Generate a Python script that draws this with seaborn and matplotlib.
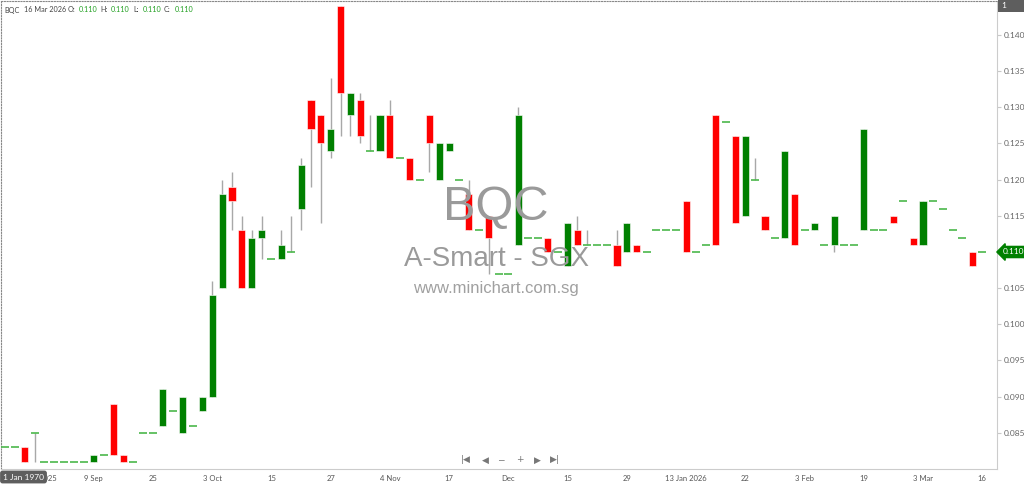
import pandas as pd
import seaborn as sns
import matplotlib
matplotlib.use('Agg')
import matplotlib.pyplot as plt
from matplotlib.transforms import blended_transform_factory

# OHLC de cada pregão (BQC - A-Smart, SGX)
opens = [0.083, 0.083, 0.083, 0.085, 0.081, 0.081, 0.081, 0.081, 0.081, 0.081,
         0.082, 0.089, 0.082, 0.081, 0.085, 0.085, 0.086, 0.088, 0.085, 0.086,
         0.088, 0.090, 0.105, 0.119, 0.113, 0.105, 0.112, 0.109, 0.109, 0.110,
         0.116, 0.131, 0.129, 0.124, 0.144, 0.129, 0.131, 0.124, 0.124, 0.129,
         0.123, 0.123, 0.120, 0.129, 0.120, 0.124, 0.120, 0.118, 0.113, 0.115,
         0.107, 0.107, 0.111, 0.112, 0.112, 0.112, 0.110, 0.108, 0.113, 0.111,
         0.111, 0.111, 0.111, 0.110, 0.111, 0.110, 0.113, 0.113, 0.113, 0.117,
         0.110, 0.111, 0.129, 0.128, 0.126, 0.115, 0.120, 0.115, 0.112, 0.112,
         0.118, 0.113, 0.113, 0.111, 0.111, 0.111, 0.111, 0.113, 0.113, 0.113,
         0.115, 0.117, 0.112, 0.111, 0.117, 0.116, 0.113, 0.112, 0.110, 0.110]
highs = [0.083, 0.083, 0.083, 0.085, 0.081, 0.081, 0.081, 0.081, 0.081, 0.082,
         0.082, 0.089, 0.082, 0.081, 0.085, 0.085, 0.091, 0.088, 0.090, 0.086,
         0.090, 0.106, 0.120, 0.121, 0.115, 0.113, 0.115, 0.109, 0.113, 0.115,
         0.123, 0.131, 0.129, 0.134, 0.144, 0.132, 0.132, 0.129, 0.129, 0.131,
         0.123, 0.123, 0.120, 0.129, 0.125, 0.125, 0.120, 0.120, 0.113, 0.115,
         0.107, 0.107, 0.130, 0.112, 0.112, 0.112, 0.110, 0.114, 0.115, 0.113,
         0.111, 0.111, 0.113, 0.114, 0.111, 0.110, 0.113, 0.113, 0.113, 0.117,
         0.110, 0.111, 0.129, 0.128, 0.126, 0.126, 0.123, 0.115, 0.112, 0.124,
         0.118, 0.113, 0.114, 0.111, 0.115, 0.111, 0.111, 0.127, 0.113, 0.113,
         0.115, 0.117, 0.112, 0.117, 0.117, 0.116, 0.113, 0.112, 0.110, 0.110]
lows = [0.083, 0.083, 0.081, 0.081, 0.081, 0.081, 0.081, 0.081, 0.081, 0.081,
        0.082, 0.082, 0.081, 0.081, 0.085, 0.085, 0.086, 0.088, 0.085, 0.086,
        0.088, 0.090, 0.105, 0.113, 0.105, 0.105, 0.109, 0.109, 0.109, 0.110,
        0.113, 0.119, 0.114, 0.123, 0.126, 0.126, 0.125, 0.124, 0.124, 0.123,
        0.123, 0.120, 0.120, 0.121, 0.120, 0.124, 0.120, 0.113, 0.113, 0.107,
        0.107, 0.107, 0.111, 0.112, 0.112, 0.110, 0.110, 0.108, 0.111, 0.111,
        0.111, 0.111, 0.108, 0.110, 0.110, 0.110, 0.113, 0.113, 0.113, 0.110,
        0.110, 0.111, 0.111, 0.128, 0.114, 0.115, 0.120, 0.113, 0.112, 0.112,
        0.111, 0.113, 0.113, 0.111, 0.110, 0.111, 0.111, 0.113, 0.113, 0.113,
        0.114, 0.117, 0.111, 0.111, 0.117, 0.116, 0.113, 0.112, 0.108, 0.110]
closes = [0.083, 0.083, 0.081, 0.085, 0.081, 0.081, 0.081, 0.081, 0.081, 0.082,
          0.082, 0.082, 0.081, 0.081, 0.085, 0.085, 0.091, 0.088, 0.090, 0.086,
          0.090, 0.104, 0.118, 0.117, 0.105, 0.112, 0.113, 0.109, 0.111, 0.110,
          0.122, 0.127, 0.125, 0.127, 0.132, 0.132, 0.126, 0.124, 0.129, 0.123,
          0.123, 0.120, 0.120, 0.125, 0.125, 0.125, 0.120, 0.113, 0.113, 0.112,
          0.107, 0.107, 0.129, 0.112, 0.112, 0.110, 0.110, 0.114, 0.111, 0.111,
          0.111, 0.111, 0.108, 0.114, 0.110, 0.110, 0.113, 0.113, 0.113, 0.110,
          0.110, 0.111, 0.111, 0.128, 0.114, 0.126, 0.120, 0.113, 0.112, 0.124,
          0.111, 0.113, 0.114, 0.111, 0.115, 0.111, 0.111, 0.127, 0.113, 0.113,
          0.114, 0.117, 0.111, 0.117, 0.117, 0.116, 0.113, 0.112, 0.108, 0.110]

# rótulos do eixo x (um a cada 6 candles)
tick_labels = ['29 Aug 2025', '9 Sep', '25', '3 Oct', '15', '27', '4 Nov', '17', 'Dec',
               '15', '29', '13 Jan 2026', '22', '3 Feb', '19', '3 Mar', '16']
y_ticks = [0.085, 0.090, 0.095, 0.100, 0.105, 0.110, 0.115, 0.120, 0.125, 0.130, 0.135, 0.140]
ultimo = {'data': '16 Mar 2026', 'O': 0.110, 'H': 0.110, 'L': 0.110, 'C': 0.110}

dados = pd.DataFrame({'open': opens, 'high': highs, 'low': lows, 'close': closes})
dados['idx'] = range(len(dados))

VERDE = '#008000'
VERMELHO = '#ff0000'
TRACO = '#4cb84c'

sns.set_theme(style='white')
plt.rcParams['font.family'] = ['Lato', 'DejaVu Sans']

fig = plt.figure(figsize=(10.24, 4.84), dpi=100)
ax = fig.add_axes([1 / 1024, 15 / 484, 996 / 1024, 468 / 484])

# pavios
com_range = dados[dados['high'] > dados['low']]
ax.vlines(com_range['idx'], com_range['low'], com_range['high'], color='#a8a8a8', linewidth=1, zorder=2)

# corpos
corpos = dados[dados['open'] != dados['close']]
cores = [VERDE if c > o else VERMELHO for o, c in zip(corpos['open'], corpos['close'])]
ax.bar(corpos['idx'], (corpos['close'] - corpos['open']).abs(),
       bottom=corpos[['open', 'close']].min(axis=1), width=0.72,
       color=cores, edgecolor='white', linewidth=0.4, zorder=3)

# candles sem corpo (abertura = fechamento)
doji = dados[dados['open'] == dados['close']]
sns.scatterplot(data=doji, x='idx', y='close', marker='_', s=30, color=TRACO,
                linewidth=1.2, ax=ax, zorder=4, legend=False)

ax.set_xlim(-0.4, 100.5)
ax.set_ylim(0.0800, 0.1447)
ax.set_xlabel('')
ax.set_ylabel('')

ax.set_xticks(range(3, len(dados), 6))
ax.set_xticklabels(tick_labels)
ax.yaxis.tick_right()
ax.set_yticks(y_ticks)
ax.set_yticklabels([f'{v:.3f}' for v in y_ticks])
ax.tick_params(axis='x', length=3, width=0.8, color='#c8c8c8', labelcolor='#555555', labelsize=5.5, pad=1.5)
ax.tick_params(axis='y', length=3, width=0.8, color='#c8c8c8', labelcolor='#666666', labelsize=6, pad=2)

for lado in ['top', 'left']:
    ax.spines[lado].set_linestyle((0, (1, 1.5)))
    ax.spines[lado].set_color('#888888')
    ax.spines[lado].set_linewidth(0.8)
for lado in ['right', 'bottom']:
    ax.spines[lado].set_color('#cccccc')
    ax.spines[lado].set_linewidth(0.8)

# marca d'água
fig.text(496 / 1024, 1 - 220 / 484, 'BQC', ha='center', va='baseline', fontsize=35,
         color='#9a9a9a', family='Liberation Sans', zorder=0)
fig.text(496 / 1024, 1 - 266 / 484, 'A-Smart - SGX', ha='center', va='baseline', fontsize=20,
         color='#9a9a9a', family='Liberation Sans', zorder=0)
fig.text(496 / 1024, 1 - 293 / 484, 'www.minichart.com.sg', ha='center', va='baseline', fontsize=12,
         color='#a0a0a0', family='Liberation Sans', zorder=0)

# cabeçalho com OHLC do último dia
y_cab = 1 - 10 / 484
fs_cab = 5.2
fig.text(4 / 1024, y_cab, 'BQC', fontsize=fs_cab, color='#444444', va='center')
fig.text(24 / 1024, y_cab, ultimo['data'], fontsize=fs_cab, color='#444444', va='center')
for px_rot, px_val, chave in [(68, 79, 'O'), (100, 111, 'H'), (133, 143, 'L'), (164, 175, 'C')]:
    fig.text(px_rot / 1024, y_cab, f'{chave}:', fontsize=fs_cab, color='#444444', va='center')
    fig.text(px_val / 1024, y_cab, f"{ultimo[chave]:.3f}", fontsize=fs_cab, color='#22a022', va='center')

# etiqueta do último preço no eixo direito
trans = blended_transform_factory(ax.transAxes, ax.transData)
ax.text(1.006, ultimo['C'], f"{ultimo['C']:.3f}", transform=trans, fontsize=6, color='white',
        va='center', ha='left', clip_on=False,
        bbox=dict(boxstyle='larrow,pad=0.25', fc=VERDE, ec=VERDE))

# caixas cinzas (crosshair)
fig.text(3 / 1024, 1 - 477 / 484, '1 Jan 1970', fontsize=6, color='white', va='center',
         bbox=dict(boxstyle='round,pad=0.35,rounding_size=0.3', fc='#5e5e5e', ec='none'))
fig.patches.append(plt.Rectangle((998 / 1024, 1 - 12 / 484), 26 / 1024, 12 / 484,
                                 transform=fig.transFigure, fc='#5e5e5e', ec='none'))
fig.text(1001 / 1024, 1 - 6 / 484, '1', fontsize=6, color='white', va='center')

# botões de navegação
for px, simbolo in [(466, '|◀'), (485, '◀'), (501, '−'), (520, '+'), (537, '▶'), (555, '▶|')]:
    fig.text(px / 1024, 1 - 460 / 484, simbolo, fontsize=6.5, color='#777777', ha='center',
             va='center', family='DejaVu Sans')

fig.savefig('out.png', dpi=100)
